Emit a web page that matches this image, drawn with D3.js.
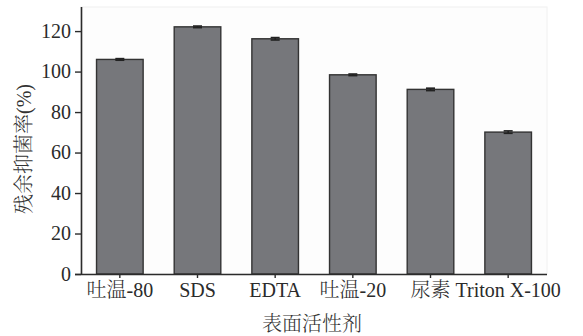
<!DOCTYPE html>
<html>
<head>
<meta charset="utf-8">
<script src="https://cdn.jsdelivr.net/npm/d3@7"></script>
<style>
  html, body { margin: 0; padding: 0; background: #ffffff; }
  svg { display: block; }
</style>
</head>
<body>
<svg id="chart" width="583" height="336"></svg>
<script>
// Surfactant treatments and residual antibacterial rate (%)
const categories = ["吐温-80", "SDS", "EDTA", "吐温-20", "尿素", "Triton X-100"];
const values = [106.0, 122.1, 116.2, 98.4, 91.2, 70.1];
const errors = [0.4, 0.4, 0.6, 0.4, 0.6, 0.6];
const yTicks = [0, 20, 40, 60, 80, 100, 120];
const xTitle = "表面活性剂";
const yTitle = "残余抑菌率(%)";

const svg = d3.select("#chart");
const plotLeft = 81, plotRight = 547, plotTop = 7, plotBottom = 274;
const latin = "'Liberation Serif', 'Times New Roman', serif";
const cjk = "'Liberation Serif', 'Noto Serif CJK SC', 'Noto Sans CJK SC', serif";
const ink = "#2b2b2b";

const x = d3.scaleBand().domain(categories).range([plotLeft, plotRight])
  .paddingInner(0.4).paddingOuter(0.2);
const y = d3.scaleLinear().domain([0, 131.9]).range([plotBottom, plotTop]);

// faint plot frame
svg.append("rect")
  .attr("x", plotLeft).attr("y", plotTop)
  .attr("width", plotRight - plotLeft).attr("height", plotBottom - plotTop)
  .attr("fill", "#fdfdfd").attr("stroke", "#f0f0f0").attr("stroke-width", 1);

// bars
svg.append("g").selectAll("rect").data(categories).join("rect")
  .attr("x", d => x(d))
  .attr("y", (d, i) => y(values[i]))
  .attr("width", x.bandwidth())
  .attr("height", (d, i) => y(0) - y(values[i]))
  .attr("fill", "#76777b")
  .attr("stroke", "#333333")
  .attr("stroke-width", 1.4);

// error bars
const eb = svg.append("g").attr("stroke", "#222").attr("stroke-width", 1.6);
categories.forEach((c, i) => {
  const cx = x(c) + x.bandwidth() / 2;
  eb.append("line").attr("x1", cx).attr("x2", cx)
    .attr("y1", y(values[i] + errors[i])).attr("y2", y(values[i] - errors[i]));
  [values[i] + errors[i], values[i] - errors[i]].forEach(v => {
    eb.append("line").attr("x1", cx - 4.5).attr("x2", cx + 4.5)
      .attr("y1", y(v)).attr("y2", y(v));
  });
});

// y axis
const yAxis = svg.append("g").attr("transform", `translate(${plotLeft},0)`)
  .call(d3.axisLeft(y).tickValues(yTicks).tickSize(6).tickPadding(4).tickSizeOuter(0));
yAxis.select(".domain").attr("stroke", ink).attr("stroke-width", 1.6)
  .attr("d", `M0.5,${plotTop}V${plotBottom}`);
yAxis.selectAll(".tick line").attr("stroke", ink).attr("stroke-width", 1.4);
yAxis.selectAll(".tick text").attr("fill", ink)
  .style("font-family", latin).style("font-size", "20px");

// x axis
const xAxis = svg.append("g").attr("transform", `translate(0,${plotBottom})`)
  .call(d3.axisBottom(x).tickSize(4).tickPadding(5).tickSizeOuter(0));
xAxis.select(".domain").attr("stroke", ink).attr("stroke-width", 1.6)
  .attr("d", `M${plotLeft - 6},0.5H${plotRight}`);
xAxis.selectAll(".tick line").attr("stroke", ink).attr("stroke-width", 1.4);
xAxis.selectAll(".tick text").attr("fill", ink)
  .style("font-family", cjk).style("font-size", "20px").style("font-weight", 300);

// axis titles
svg.append("text")
  .attr("x", (plotLeft + plotRight) / 2 - 2).attr("y", 331)
  .attr("text-anchor", "middle")
  .attr("fill", "#333")
  .style("font-family", cjk).style("font-size", "20px").style("font-weight", 300)
  .text(xTitle);

svg.append("text")
  .attr("transform", `translate(31,149) rotate(-90)`)
  .attr("text-anchor", "middle")
  .attr("fill", "#333")
  .style("font-family", cjk).style("font-size", "20px").style("font-weight", 300)
  .text(yTitle);
</script>
</body>
</html>
